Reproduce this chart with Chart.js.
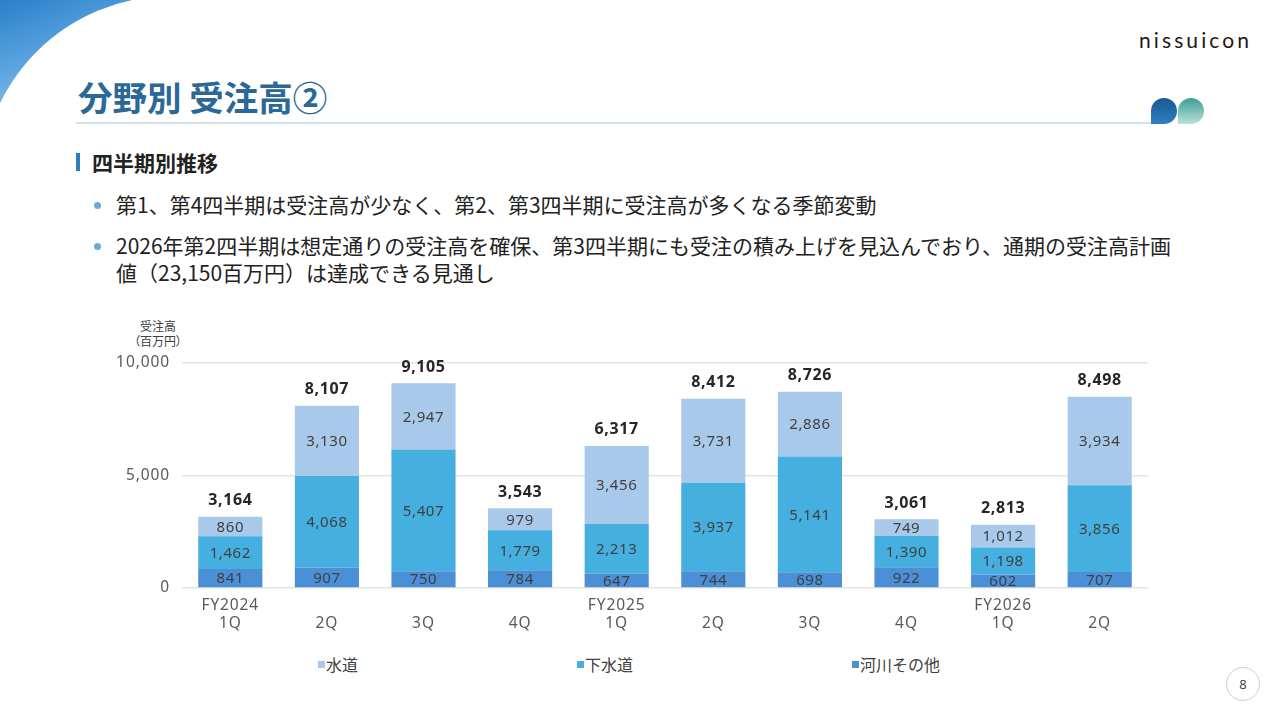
<!DOCTYPE html>
<html lang="ja">
<head>
<meta charset="utf-8">
<script src="https://cdn.jsdelivr.net/npm/chart.js@4"></script>
<style>
  html, body { margin: 0; padding: 0; background: #fff; }
  body { width: 1280px; height: 720px; position: relative; overflow: hidden;
         font-family: "Noto Sans CJK JP", "Noto Sans", sans-serif; color: #222; }
  .corner { position: absolute; left: 0; top: 0; width: 150px; height: 115px;
            background: linear-gradient(160deg, #2a80c9 0%, #5ea6e0 45%, #b4d8f4 100%); }
  .corner-cut { position: absolute; left: -19px; top: -4px; width: 380px; height: 380px;
                border-radius: 50%; background: #fff; }
  .title { position: absolute; left: 78px; top: 73px; font-size: 34.5px; font-weight: 700;
           color: #2c6896; line-height: 46px; white-space: nowrap; }
  .rule { position: absolute; left: 76px; top: 122px; width: 1076px; height: 2px; background: #d3e2ec; }
  .brand { position: absolute; left: 1139px; top: 27px; font-family: "Lato", "Noto Sans", sans-serif;
           font-size: 21px; letter-spacing: 3.1px; color: #231815; }
  .drop { position: absolute; top: 98px; width: 26px; height: 26px; border-radius: 13px 13px 13px 0; }
  .d1 { left: 1151px; background: linear-gradient(180deg, #175894, #2f80c2); }
  .d2 { left: 1178px; background: linear-gradient(180deg, #3f9c93, #b9e1dc); }
  .sec { position: absolute; left: 76px; top: 148px; font-size: 21px; font-weight: 700; line-height: 28px; }
  .sec::before { content: ""; position: absolute; left: 0; top: 5px; width: 4px; height: 18px; background: #2b7cc2; }
  .sec span { margin-left: 16px; }
  .bul { position: absolute; left: 116px; font-size: 21px; line-height: 27px; white-space: nowrap; color: #222; }
  .bul::before { content: ""; position: absolute; left: -22px; top: 11px; width: 7px; height: 7px;
                 border-radius: 50%; background: #6aa9d8; }
  .ytitle { position: absolute; left: 120px; top: 318px; width: 76px; text-align: center;
            font-size: 12px; line-height: 15px; color: #404040; font-feature-settings: "palt"; }
  #wrap { position: absolute; left: 100px; top: 310px; width: 1060px; height: 330px; }
  .legend { position: absolute; left: 318px; top: 652px; width: 622px; display: flex;
            justify-content: space-between; font-size: 16px; color: #404040; line-height: 24px; }
  .legend div { display: flex; align-items: center; }
  .legend i { display: inline-block; width: 7px; height: 7px; margin-right: 1px; }
  .page { position: absolute; left: 1226px; top: 667px; width: 34px; height: 34px; border-radius: 50%;
          border: 1px solid #cfcfcf; box-sizing: border-box; text-align: center; line-height: 32px;
          font-size: 13px; color: #444; font-family: "Noto Sans", sans-serif; }
</style>
</head>
<body>
<div class="corner"></div>
<div class="corner-cut"></div>
<div class="title">分野別 受注高②</div>
<div class="rule"></div>
<div class="brand">nissuicon</div>
<div class="drop d1"></div>
<div class="drop d2"></div>
<div class="sec"><span>四半期別推移</span></div>
<div class="bul" style="top:191px">第1、第4四半期は受注高が少なく、第2、第3四半期に受注高が多くなる季節変動</div>
<div class="bul" style="top:232px">2026年第2四半期は想定通りの受注高を確保、第3四半期にも受注の積み上げを見込んでおり、通期の受注高計画<br>値（23,150百万円）は達成できる見通し</div>
<div class="ytitle">受注高<br>（百万円）</div>
<div id="wrap"><canvas id="chart"></canvas></div>
<div class="legend" id="legend"></div>
<div class="page">8</div>
<script>
// quarters (multi-line tick labels)
const quarters = [
  ["FY2024", "1Q"], ["", "2Q"], ["", "3Q"], ["", "4Q"],
  ["FY2025", "1Q"], ["", "2Q"], ["", "3Q"], ["", "4Q"],
  ["FY2026", "1Q"], ["", "2Q"]
];
const seriesNames = ["河川その他", "下水道", "水道"];
const kasen = [841, 907, 750, 784, 647, 744, 698, 922, 602, 707];
const gesuido = [1462, 4068, 5407, 1779, 2213, 3937, 5141, 1390, 1198, 3856];
const suido = [860, 3130, 2947, 979, 3456, 3731, 2886, 749, 1012, 3934];
const totals = [3164, 8107, 9105, 3543, 6317, 8412, 8726, 3061, 2813, 8498];
const yTicks = [0, 5000, 10000];
const colors = ["#4b8fd7", "#45afe0", "#a9c9eb"];

const fmt = v => v.toLocaleString("en-US");

// wider letter spacing for axis text
const spacingPlugin = {
  id: "spacing",
  beforeDraw(chart) { chart.ctx.letterSpacing = "0.9px"; }
};

// values inside the bars + totals on top
const labelsPlugin = {
  id: "labels",
  afterDatasetsDraw(chart) {
    const ctx = chart.ctx;
    ctx.save();
    ctx.textAlign = "center";
    ctx.textBaseline = "middle";
    ctx.letterSpacing = "0.6px";
    ctx.fillStyle = "#404040";
    ctx.font = "15px 'Noto Sans', sans-serif";
    chart.data.datasets.forEach((ds, di) => {
      chart.getDatasetMeta(di).data.forEach((bar, i) => {
        ctx.fillText(fmt(ds.data[i]), bar.x, (bar.y + bar.base) / 2 + 1);
      });
    });
    const top = chart.getDatasetMeta(chart.data.datasets.length - 1).data;
    ctx.fillStyle = "#262626";
    ctx.font = "bold 16px 'Noto Sans', sans-serif";
    top.forEach((bar, i) => {
      ctx.fillText(fmt(totals[i]), bar.x, bar.y - 16);
    });
    ctx.restore();
  }
};

const datasets = [kasen, gesuido, suido].map((d, i) => ({
  label: seriesNames[i],
  data: d,
  backgroundColor: colors[i],
  borderWidth: 0,
  categoryPercentage: 0.8,
  barPercentage: 0.83
}));

new Chart(document.getElementById("chart"), {
  type: "bar",
  data: { labels: quarters, datasets: datasets },
  options: {
    responsive: true,
    maintainAspectRatio: false,
    animation: false,
    layout: { padding: { top: 53, right: 12, left: 0, bottom: 0 } },
    plugins: { legend: { display: false }, tooltip: { enabled: false } },
    scales: {
      x: {
        stacked: true,
        grid: { display: false, drawTicks: false },
        border: { display: false },
        ticks: { padding: 8, color: "#595959", font: { size: 15.5, family: "'Noto Sans', sans-serif" }, maxRotation: 0 },
        afterFit: s => { s.height = 52; }
      },
      y: {
        stacked: true,
        min: 0,
        max: 10000,
        afterBuildTicks: s => { s.ticks = yTicks.map(v => ({ value: v })); },
        grid: { color: "#e3e3e3", lineWidth: 1.5, drawTicks: false },
        border: { display: false },
        ticks: { padding: 12, color: "#595959", font: { size: 15.5, family: "'Noto Sans', sans-serif" }, callback: v => fmt(v) },
        afterFit: s => { s.width = 82; }
      }
    }
  },
  plugins: [spacingPlugin, labelsPlugin]
});

// legend in reverse stacking order
const lg = document.getElementById("legend");
for (let i = seriesNames.length - 1; i >= 0; i--) {
  const it = document.createElement("div");
  it.innerHTML = `<i style="background:${colors[i]}"></i>${seriesNames[i]}`;
  lg.appendChild(it);
}
</script>
</body>
</html>
